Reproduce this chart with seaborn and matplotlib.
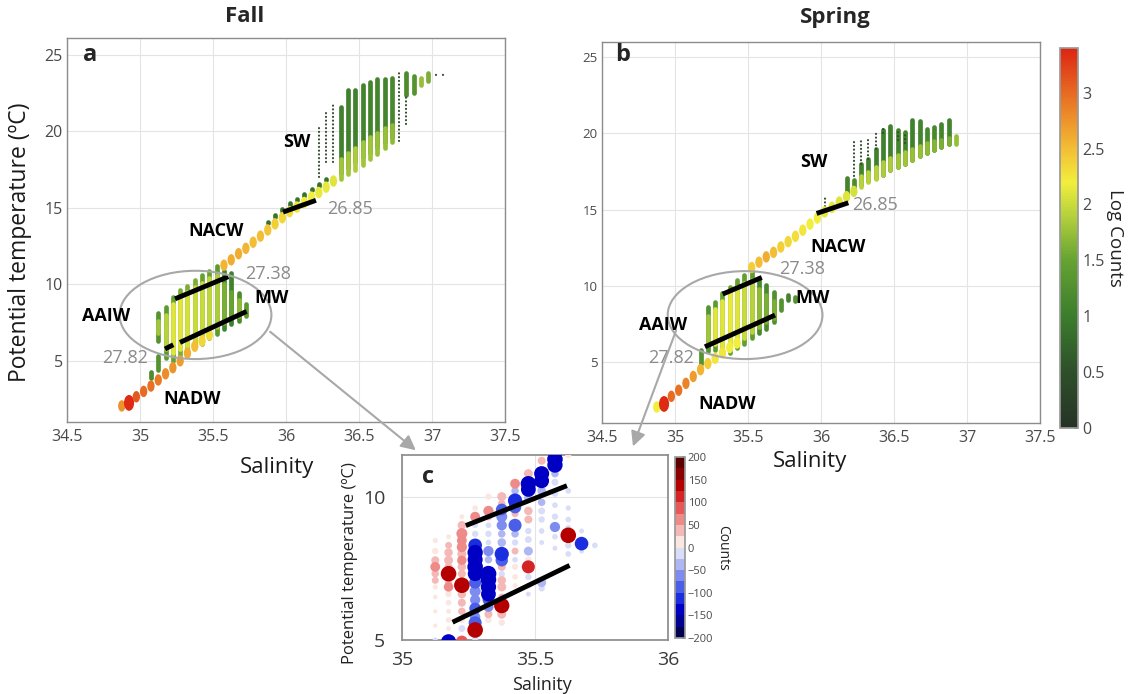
import numpy as np
import pandas as pd
import matplotlib
matplotlib.use("Agg")
import matplotlib.pyplot as plt
import seaborn as sns
from matplotlib.colors import LinearSegmentedColormap, ListedColormap, Normalize
from matplotlib.cm import ScalarMappable
from matplotlib.patches import Ellipse, FancyArrowPatch
from matplotlib.path import Path
from matplotlib.transforms import Affine2D
from matplotlib.ticker import FuncFormatter

# ======================= DATA =======================
# ---- Panel a (Fall) : main T-S curve cells (salinity, theta, log10 count)
fall_dot_sal = [34.875, 34.925, 34.975, 35.025, 35.075, 35.125, 35.175, 35.225, 35.275, 35.325, 35.375, 35.425, 35.475,
                35.575, 35.625, 35.675, 35.725, 35.775, 35.825, 35.875, 35.925, 35.975, 36.025, 36.075, 36.125, 36.175,
                36.225, 36.275, 36.325]
fall_dot_T = [2.05, 2.25, 2.65, 3.0, 3.35, 3.75, 4.15, 4.55, 5.0, 5.5, 5.95, 6.3, 6.7,
              11.25, 11.6, 12.0, 12.35, 12.75, 13.15, 13.55, 13.95, 14.35, 14.75, 15.05, 15.35, 15.7,
              16.0, 16.35, 16.75]
fall_dot_c = [2.75, 3.35, 3.1, 3.0, 2.95, 2.9, 2.8, 2.75, 2.7, 2.6, 2.5, 2.35, 2.3,
              2.55, 2.6, 2.6, 2.55, 2.5, 2.5, 2.45, 2.4, 2.35, 2.3, 2.25, 2.2, 2.2,
              2.15, 2.15, 2.1]
# ---- Panel a : vertical runs of occupied cells (salinity, theta from, theta to, log10 count)
fall_col_sal = [35.075, 35.125, 35.125, 35.125, 35.175, 35.175, 35.225, 35.225, 35.275, 35.275, 35.325, 35.325,
                35.375, 35.375, 35.425, 35.425, 35.475, 35.475, 35.525, 35.525, 35.575, 35.575, 35.625, 35.625,
                35.675, 35.675, 35.725,
                35.875, 35.925, 35.975, 36.025, 36.075, 36.125, 36.175, 36.225, 36.275,
                36.375, 36.375, 36.425, 36.425, 36.475, 36.475, 36.525, 36.525, 36.575, 36.575, 36.625, 36.625,
                36.675, 36.675, 36.725, 36.725, 36.825, 36.875, 36.925, 36.975]
fall_col_t0 = [3.9, 4.4, 6.3, 6.8, 5.2, 5.8, 5.0, 5.5, 5.4, 5.8, 5.65, 6.0,
               5.9, 6.3, 6.1, 6.5, 6.5, 6.9, 6.75, 7.2, 7.1, 7.5, 7.4, 7.8,
               7.6, 7.9, 7.95,
               14.0, 14.4, 14.8, 15.2, 15.5, 15.8, 16.15, 16.45, 16.8,
               17.3, 16.9, 17.6, 17.2, 18.0, 17.5, 18.3, 17.8, 18.6, 18.2, 19.0, 18.5,
               19.3, 18.9, 19.6, 19.3, 22.4, 22.5, 23.0, 23.3]
fall_col_t1 = [4.3, 5.3, 8.1, 7.6, 8.5, 8.0, 9.15, 8.7, 9.6, 9.2, 9.9, 9.5,
               10.25, 9.8, 10.6, 10.1, 10.9, 10.4, 11.2, 10.6, 10.9, 10.0, 10.75, 9.5,
               9.4, 9.0, 8.7,
               14.1, 14.5, 14.9, 15.3, 15.6, 15.9, 16.25, 16.55, 16.9,
               21.6, 18.2, 22.7, 18.6, 22.7, 18.9, 23.0, 19.3, 23.25, 19.6, 23.4, 19.9,
               23.4, 20.2, 23.5, 20.4, 23.8, 23.6, 23.5, 23.8]
fall_col_c = [1.2, 1.3, 1.3, 1.8, 1.4, 1.9, 1.5, 2.1, 1.6, 2.1, 1.6, 2.05,
              1.6, 2.0, 1.5, 2.0, 1.5, 1.95, 1.4, 1.85, 1.1, 1.6, 1.05, 1.5,
              1.2, 1.7, 1.4,
              0.9, 0.9, 0.9, 0.9, 0.9, 0.9, 0.9, 0.9, 0.9,
              1.05, 1.8, 1.05, 1.8, 1.05, 1.85, 1.1, 1.8, 1.1, 1.8, 1.1, 1.75,
              1.1, 1.75, 1.15, 1.7, 1.2, 1.3, 1.75, 1.6]
# ---- Panel a : sparse single-count cells (salinity, theta from, theta to)
fall_sparse_sal = [36.225, 36.275, 36.325, 36.775, 36.825, 37.025, 37.075]
fall_sparse_t0 = [17.0, 18.0, 18.0, 19.4, 20.5, 23.7, 23.7]
fall_sparse_t1 = [20.3, 21.4, 21.8, 23.8, 22.4, 23.9, 23.8]

# ---- Panel b (Spring)
spr_dot_sal = [34.875, 34.925, 34.975, 35.025, 35.075, 35.125, 35.175, 35.225, 35.275, 35.325, 35.375, 35.425,
               35.525, 35.575, 35.625, 35.675, 35.725, 35.775, 35.825, 35.875, 35.925, 35.975, 36.025, 36.075,
               36.125, 36.175, 36.225]
spr_dot_T = [2.05, 2.25, 2.75, 3.15, 3.6, 4.05, 4.5, 4.9, 5.25, 5.6, 5.95, 6.25,
             11.2, 11.55, 11.9, 12.2, 12.55, 12.9, 13.25, 13.65, 14.05, 14.45, 14.85, 15.15,
             15.5, 15.85, 16.2]
spr_dot_c = [2.2, 3.35, 3.0, 2.95, 2.85, 2.7, 2.55, 2.4, 2.25, 2.25, 2.2, 2.2,
             2.4, 2.5, 2.6, 2.5, 2.4, 2.35, 2.3, 2.25, 2.2, 2.2, 2.15, 2.15,
             2.1, 2.1, 2.05]
spr_col_sal = [35.175, 35.225, 35.225, 35.275, 35.275, 35.325, 35.325, 35.375, 35.375, 35.425, 35.425,
               35.475, 35.475, 35.525, 35.525, 35.575, 35.575, 35.625, 35.625, 35.675, 35.675, 35.725,
               35.775, 35.825,
               36.175, 36.225, 36.275, 36.325, 36.375, 36.425, 36.475, 36.525, 36.575, 36.625, 36.675,
               36.725, 36.775, 36.825, 36.875,
               36.275, 36.325, 36.375, 36.425, 36.475, 36.525, 36.575, 36.625, 36.675, 36.725, 36.775,
               36.825, 36.875, 36.925]
spr_col_t0 = [4.9, 5.7, 6.3, 5.8, 6.2, 5.6, 6.0, 5.6, 6.0, 5.9, 6.3,
              6.2, 6.6, 6.55, 7.0, 6.9, 7.3, 7.2, 7.6, 7.6, 7.9, 8.4,
              9.1, 9.0,
              16.1, 16.2, 16.6, 16.9, 17.1, 17.3, 17.6, 17.8, 18.0, 18.25, 18.5,
              18.7, 18.9, 19.1, 19.3,
              16.5, 16.8, 17.0, 17.3, 17.6, 17.8, 18.0, 18.25, 18.5, 18.7, 18.9,
              19.1, 19.3, 19.3]
spr_col_t1 = [5.8, 8.6, 8.0, 8.95, 8.5, 9.5, 9.0, 9.9, 9.5, 10.4, 9.9,
              10.7, 10.2, 11.0, 10.4, 10.5, 9.8, 10.05, 9.4, 9.6, 9.0, 9.1,
              9.4, 9.3,
              17.05, 16.95, 18.0, 18.3, 19.0, 20.2, 20.5, 20.2, 20.1, 20.9, 20.8,
              20.3, 20.4, 20.65, 20.9,
              17.2, 17.5, 17.8, 18.1, 18.4, 18.6, 18.8, 19.0, 19.2, 19.4, 19.5,
              19.6, 19.7, 19.8]
spr_col_c = [1.3, 1.3, 1.8, 1.4, 2.1, 1.5, 2.1, 1.5, 2.15, 1.5, 2.1,
             1.45, 2.0, 1.4, 1.9, 1.15, 1.7, 1.15, 1.6, 1.25, 1.6, 1.3,
             1.1, 1.3,
             1.1, 1.2, 1.1, 1.1, 1.05, 1.05, 1.05, 1.1, 1.1, 1.05, 1.1,
             1.15, 1.15, 1.1, 1.1,
             1.9, 1.9, 1.9, 1.85, 1.85, 1.8, 1.8, 1.75, 1.75, 1.7, 1.65,
             1.6, 1.6, 1.75]
spr_sparse_sal = [36.025, 36.225, 36.275, 36.325, 36.375, 36.425, 36.525, 36.575]
spr_sparse_t0 = [15.0, 17.2, 18.0, 18.3, 19.0, 20.0, 19.6, 19.4]
spr_sparse_t1 = [15.9, 19.6, 19.7, 19.7, 20.0, 20.3, 20.2, 20.1]

# ---- Isopycnals (sigma-theta 26.85, 27.38, 27.82) as end points
fall_iso_sal0 = [35.98, 35.24, 35.171, 35.274]
fall_iso_sal1 = [36.205, 35.605, 35.228, 35.73]
fall_iso_T0 = [14.72, 9.05, 5.77, 6.2]
fall_iso_T1 = [15.49, 10.5, 6.05, 8.23]
spr_iso_sal0 = [35.97, 35.327, 35.205]
spr_iso_sal1 = [36.187, 35.594, 35.685]
spr_iso_T0 = [14.75, 9.46, 6.0]
spr_iso_T1 = [15.45, 10.55, 8.08]

# ---- Panel c : difference of counts (Spring - Fall) in the intermediate layer
diff_sal = ([35.125] * 11 + [35.175] * 14 + [35.225] * 16 + [35.275] * 17 + [35.325] * 16 + [35.375] * 17
            + [35.425] * 13 + [35.475] * 14 + [35.525] * 11 + [35.575] * 10 + [35.625] * 8 + [35.675] * 3 + [35.725])
diff_T = [8.47, 8.1, 7.78, 7.55, 7.31, 7.08, 6.85, 6.5, 6.0, 5.5, 5.0,
          8.6, 8.3, 8.05, 7.78, 7.55, 7.31, 7.0, 6.85, 6.6, 6.3, 6.0, 5.7, 5.4, 4.94,
          9.3, 9.0, 8.71, 8.47, 8.24, 8.0, 7.78, 7.55, 7.31, 6.91, 6.6, 6.3, 6.0, 5.7, 5.4, 4.95,
          9.6, 9.3, 9.0, 8.7, 8.3, 8.05, 7.8, 7.55, 7.31, 7.0, 6.7, 6.4, 6.1, 5.8, 5.6, 5.35, 5.05,
          10.0, 9.5, 9.3, 9.0, 8.7, 8.4, 8.1, 7.8, 7.31, 7.1, 6.85, 6.6, 6.4, 6.16, 5.9, 5.7,
          10.0, 9.75, 9.55, 9.3, 9.0, 8.7, 8.4, 8.0, 7.78, 7.55, 7.3, 7.08, 6.85, 6.5, 6.2, 5.9, 5.6,
          10.45, 10.2, 9.86, 9.63, 9.4, 9.0, 8.7, 8.4, 8.1, 7.8, 7.55, 7.2, 6.9,
          10.8, 10.45, 10.25, 9.95, 9.5, 9.2, 8.8, 8.5, 8.1, 7.8, 7.55, 7.2, 6.9, 6.6,
          11.25, 10.8, 10.55, 10.2, 9.8, 9.5, 9.2, 8.8, 8.4, 7.0, 6.8,
          11.3, 11.1, 10.8, 10.5, 10.1, 9.7, 9.3, 8.94, 8.6, 8.2,
          11.45, 10.2, 9.6, 9.2, 8.9, 8.65, 8.3, 8.0,
          8.8, 8.36, 8.1,
          8.3]
diff_n = [12, 20, 35, 55, 30, 25, 12, 8, 6, 6, -12,
          10, 25, 40, 45, 35, 145, 30, 50, 20, 15, 10, 15, 10, -135,
          10, 40, 70, 55, 60, 45, 50, 40, 35, 145, 40, 35, 30, 20, -25, 80,
          15, 55, -15, -20, -110, -140, -135, -145, -130, -85, -70, -60, -80, -60, -100, 145, -20,
          20, 60, 30, -15, -20, -15, -60, -30, -150, -145, -140, -130, -80, -60, 35, 20,
          45, 30, -80, -70, -60, -30, -40, -120, -90, 35, -20, 40, 45, 25, 140, 45, 20,
          55, -30, -120, -90, 25, -100, -30, -20, 25, -15, 20, 15, 10,
          45, -140, -130, -40, 40, 35, -20, -25, -45, 20, 100, -20, -15, -10,
          35, -135, -130, -40, -30, -25, -20, -15, -10, -45, -20,
          -145, -140, -30, -25, -20, -15, -20, -60, -15, -10,
          20, -15, -12, -15, -20, 145, -20, -15,
          -10, -110, -10,
          -15]
diff_iso_sal0 = [35.24, 35.19]
diff_iso_sal1 = [35.62, 35.63]
diff_iso_T0 = [8.99, 5.62]
diff_iso_T1 = [10.38, 7.6]

# ======================= STYLE =======================
sns.set_theme(style="white")
plt.rcParams["font.family"] = ["Open Sans", "DejaVu Sans"]

W, H = 1129, 694
fig = plt.figure(figsize=(W / 100, H / 100), dpi=100)


def box(l, t, r, b):
    return [l / W, 1 - b / H, (r - l) / W, (b - t) / H]


def fx(x):
    return x / W


def fy(y):
    return 1 - y / H


ax_a = fig.add_axes(box(67, 38, 505, 422))
ax_b = fig.add_axes(box(602, 42, 1040, 423))
cax = fig.add_axes(box(1060, 48, 1078, 428))
ax_c = fig.add_axes(box(402, 455, 668, 640))
cax_c = fig.add_axes(box(675, 457, 685, 638))

log_cmap = LinearSegmentedColormap.from_list(
    "logcounts",
    [(0.0, "#263326"), (0.5 / 3.4, "#2e4f2a"), (1.0 / 3.4, "#3b7d2c"), (1.5 / 3.4, "#66a232"),
     (1.9 / 3.4, "#b5d13c"), (2.2 / 3.4, "#f2ee3c"), (2.5 / 3.4, "#f3be35"), (2.8 / 3.4, "#ec8c2a"),
     (3.1 / 3.4, "#e45a1f"), (1.0, "#dd2412")])
log_norm = Normalize(0, 3.4)

diff_cmap = ListedColormap(["#00004f", "#000092", "#0000c4", "#1a2ee0", "#4a5ee8", "#7f8cef", "#aeb6f4", "#d9ddf8",
                            "#fbe7e2", "#f4b9b6", "#ee8b88", "#e55a58", "#d42526", "#b40000", "#8a0000", "#5a0000"])
diff_norm = Normalize(-200, 200)

ell_marker = Path.unit_circle().transformed(Affine2D().scale(0.64, 1.0))
grey_txt = "#8a8a8a"


def fmt_g(v, p):
    return f"{v:g}"


def style_axes(ax, ylab_size):
    ax.set_axisbelow(True)
    ax.grid(True, color="#e4e4e4", lw=0.8)
    for s in ax.spines.values():
        s.set_color("#8c8c8c")
        s.set_linewidth(1.0)
    ax.tick_params(direction="in", length=4, color="#8c8c8c", labelcolor="#4a4a4a", pad=3)
    ax.tick_params(axis="x", labelsize=11.5, pad=5)
    ax.tick_params(axis="y", labelsize=ylab_size)
    ax.xaxis.set_major_formatter(FuncFormatter(fmt_g))
    ax.yaxis.set_major_formatter(FuncFormatter(fmt_g))


def draw_panel(ax, dsal, dT, dc, csal, ct0, ct1, cc, ssal, st0, st1, isal0, isal1, iT0, iT1, ylim, ell):
    style_axes(ax, 11.5 if ax is ax_a else 9.5)
    ax.set_xlim(34.5, 37.5)
    ax.set_ylim(*ylim)
    ax.set_xticks(np.arange(34.5, 37.51, 0.5))
    ax.set_yticks([5, 10, 15, 20, 25])
    cols = pd.DataFrame({"sal": csal, "t0": ct0, "t1": ct1, "c": cc})
    ax.vlines(cols["sal"], cols["t0"], cols["t1"], colors=log_cmap(log_norm(cols["c"].values)),
              lw=3.4, capstyle="round", zorder=2)
    sp = pd.DataFrame({"sal": ssal, "t0": st0, "t1": st1})
    ax.vlines(sp["sal"], sp["t0"], sp["t1"], colors="#2f4a2c", lw=1.5,
              linestyles=[(0, (0.1, 1.7))], capstyle="round", zorder=2)
    dots = pd.DataFrame({"sal": dsal, "T": dT, "c": dc})
    dots["s"] = np.where(dots["c"] > 3.2, 130.0, 68.0)
    sns.scatterplot(data=dots, x="sal", y="T", hue="c", palette=log_cmap, hue_norm=log_norm,
                    size="s", sizes=(68, 130), size_norm=(68, 130), marker=ell_marker,
                    linewidth=0, legend=False, ax=ax, zorder=3)
    for a0, a1, b0, b1 in zip(isal0, isal1, iT0, iT1):
        ax.plot([a0, a1], [b0, b1], color="black", lw=3.5, solid_capstyle="butt", zorder=4)
    ax.add_patch(Ellipse(ell[:2], ell[2], ell[3], fill=False, edgecolor="#a8a8a8", lw=1.5, zorder=5))
    ax.set_xlabel("")
    ax.set_ylabel("")


draw_panel(ax_a, fall_dot_sal, fall_dot_T, fall_dot_c, fall_col_sal, fall_col_t0, fall_col_t1, fall_col_c,
           fall_sparse_sal, fall_sparse_t0, fall_sparse_t1, fall_iso_sal0, fall_iso_sal1, fall_iso_T0, fall_iso_T1,
           (1.0, 26.1), (35.38, 8.0, 1.04, 5.77))
draw_panel(ax_b, spr_dot_sal, spr_dot_T, spr_dot_c, spr_col_sal, spr_col_t0, spr_col_t1, spr_col_c,
           spr_sparse_sal, spr_sparse_t0, spr_sparse_t1, spr_iso_sal0, spr_iso_sal1, spr_iso_T0, spr_iso_T1,
           (1.0, 26.0), (35.48, 8.08, 1.06, 5.77))

# axis labels
ax_a.set_ylabel("Potential temperature (ºC)", fontsize=16.5, va="center", color="#1a1a1a")
ax_a.yaxis.set_label_coords((20 - 67) / 438, (422 - 242) / 384)
ax_a.set_xlabel("Salinity", fontsize=16, va="center", color="#1a1a1a")
ax_a.xaxis.set_label_coords((277 - 67) / 438, (422 - 468) / 384)
ax_b.set_xlabel("Salinity", fontsize=16, va="center", color="#1a1a1a")
ax_b.xaxis.set_label_coords((810 - 602) / 438, (423 - 462) / 381)

# water-mass annotations
lab_kw = dict(fontsize=13, fontweight="bold", color="black", ha="center", va="center", zorder=6)
num_kw = dict(fontsize=13, color=grey_txt, ha="center", va="center", zorder=6)
for ax, pos in [(ax_a, dict(SW=(36.075, 19.3), NACW=(35.52, 13.5), MW=(35.9, 9.13), AAIW=(34.77, 7.9),
                            NADW=(35.36, 2.5))),
                (ax_b, dict(SW=(35.95, 18.1), NACW=(36.12, 12.54), MW=(35.945, 9.2), AAIW=(34.92, 7.43),
                            NADW=(35.36, 2.25)))]:
    for k, (x, y) in pos.items():
        ax.text(x, y, k, **lab_kw)
for ax, pos in [(ax_a, [("26.85", 36.44, 14.9), ("27.38", 35.88, 10.7), ("27.82", 34.9, 5.2)]),
                (ax_b, [("26.85", 36.37, 15.3), ("27.38", 35.87, 11.1), ("27.82", 34.97, 5.26)])]:
    for t, x, y in pos:
        ax.text(x, y, t, **num_kw)

# main colorbar
cb = fig.colorbar(ScalarMappable(norm=log_norm, cmap=log_cmap), cax=cax)
cb.set_ticks(np.arange(0, 3.01, 0.5))
cb.ax.yaxis.set_major_formatter(FuncFormatter(fmt_g))
cb.ax.tick_params(labelsize=11.5, labelcolor="#4a4a4a", color="#666666", direction="in", length=3, pad=3)
cb.outline.set_edgecolor("#9a9a9a")
cb.set_label("Log Counts", rotation=270, fontsize=13.5, labelpad=14, color="#222222")

# ---------------- panel c ----------------
dc = pd.DataFrame({"sal": diff_sal, "T": diff_T, "n": diff_n})
dc["absn"] = dc["n"].abs()
dc = dc.sort_values("absn").reset_index(drop=True)
ax_c.set_axisbelow(True)
ax_c.grid(True, color="#e4e4e4", lw=0.8)
for s in ax_c.spines.values():
    s.set_color("#8c8c8c")
ax_c.tick_params(direction="in", length=4, color="#8c8c8c", labelcolor="#3a3a3a", labelsize=14)
ax_c.tick_params(axis="y", pad=12)
ax_c.tick_params(axis="x", pad=8)
sns.scatterplot(data=dc, x="sal", y="T", hue="n", palette=diff_cmap, hue_norm=diff_norm,
                size="absn", sizes=(4, 130), size_norm=(0, 150), linewidth=0, legend=False, ax=ax_c, zorder=3)
for a0, a1, b0, b1 in zip(diff_iso_sal0, diff_iso_sal1, diff_iso_T0, diff_iso_T1):
    ax_c.plot([a0, a1], [b0, b1], color="black", lw=3.5, solid_capstyle="butt", zorder=4)
ax_c.set_xlim(35, 36)
ax_c.set_ylim(5, 11.45)
ax_c.set_xticks([35, 35.5, 36])
ax_c.set_yticks([5, 10])
ax_c.xaxis.set_major_formatter(FuncFormatter(fmt_g))
ax_c.yaxis.set_major_formatter(FuncFormatter(fmt_g))
ax_c.set_xlabel("Salinity", fontsize=13, va="center", color="#222222")
ax_c.xaxis.set_label_coords((542 - 402) / 266, (640 - 685) / 185)
ax_c.set_ylabel("Potential temperature (ºC)", fontsize=12, va="center", color="#222222")
ax_c.yaxis.set_label_coords((350 - 402) / 266, (640 - 563) / 185)

cbc = fig.colorbar(ScalarMappable(norm=diff_norm, cmap=diff_cmap), cax=cax_c)
cbc.set_ticks(np.arange(-200, 201, 50))
cbc.ax.tick_params(labelsize=8, labelcolor="#4a4a4a", color="#666666", direction="in", length=2, pad=2)
cbc.outline.set_edgecolor("#9a9a9a")
cbc.set_label("Counts", rotation=270, fontsize=10, labelpad=12, color="#222222")

# titles and panel letters
fig.text(fx(245), fy(17), "Fall", fontsize=16, fontweight="bold", ha="center", va="center")
fig.text(fx(835), fy(17), "Spring", fontsize=16, fontweight="bold", ha="center", va="center")
for t, x, y in [("a", 90, 55), ("b", 623, 55), ("c", 428, 477)]:
    fig.text(fx(x), fy(y), t, fontsize=17, fontweight="bold", ha="center", va="center")

# zoom arrows
for (x0, y0), (x1, y1) in [((268, 330), (418, 452)), ((677, 328), (632, 449))]:
    fig.add_artist(FancyArrowPatch((fx(x0), fy(y0)), (fx(x1), fy(y1)), transform=fig.transFigure,
                                   arrowstyle="-|>", mutation_scale=22, color="#a8a8a8", lw=1.5, zorder=10))

fig.savefig("out.png", dpi=100)
